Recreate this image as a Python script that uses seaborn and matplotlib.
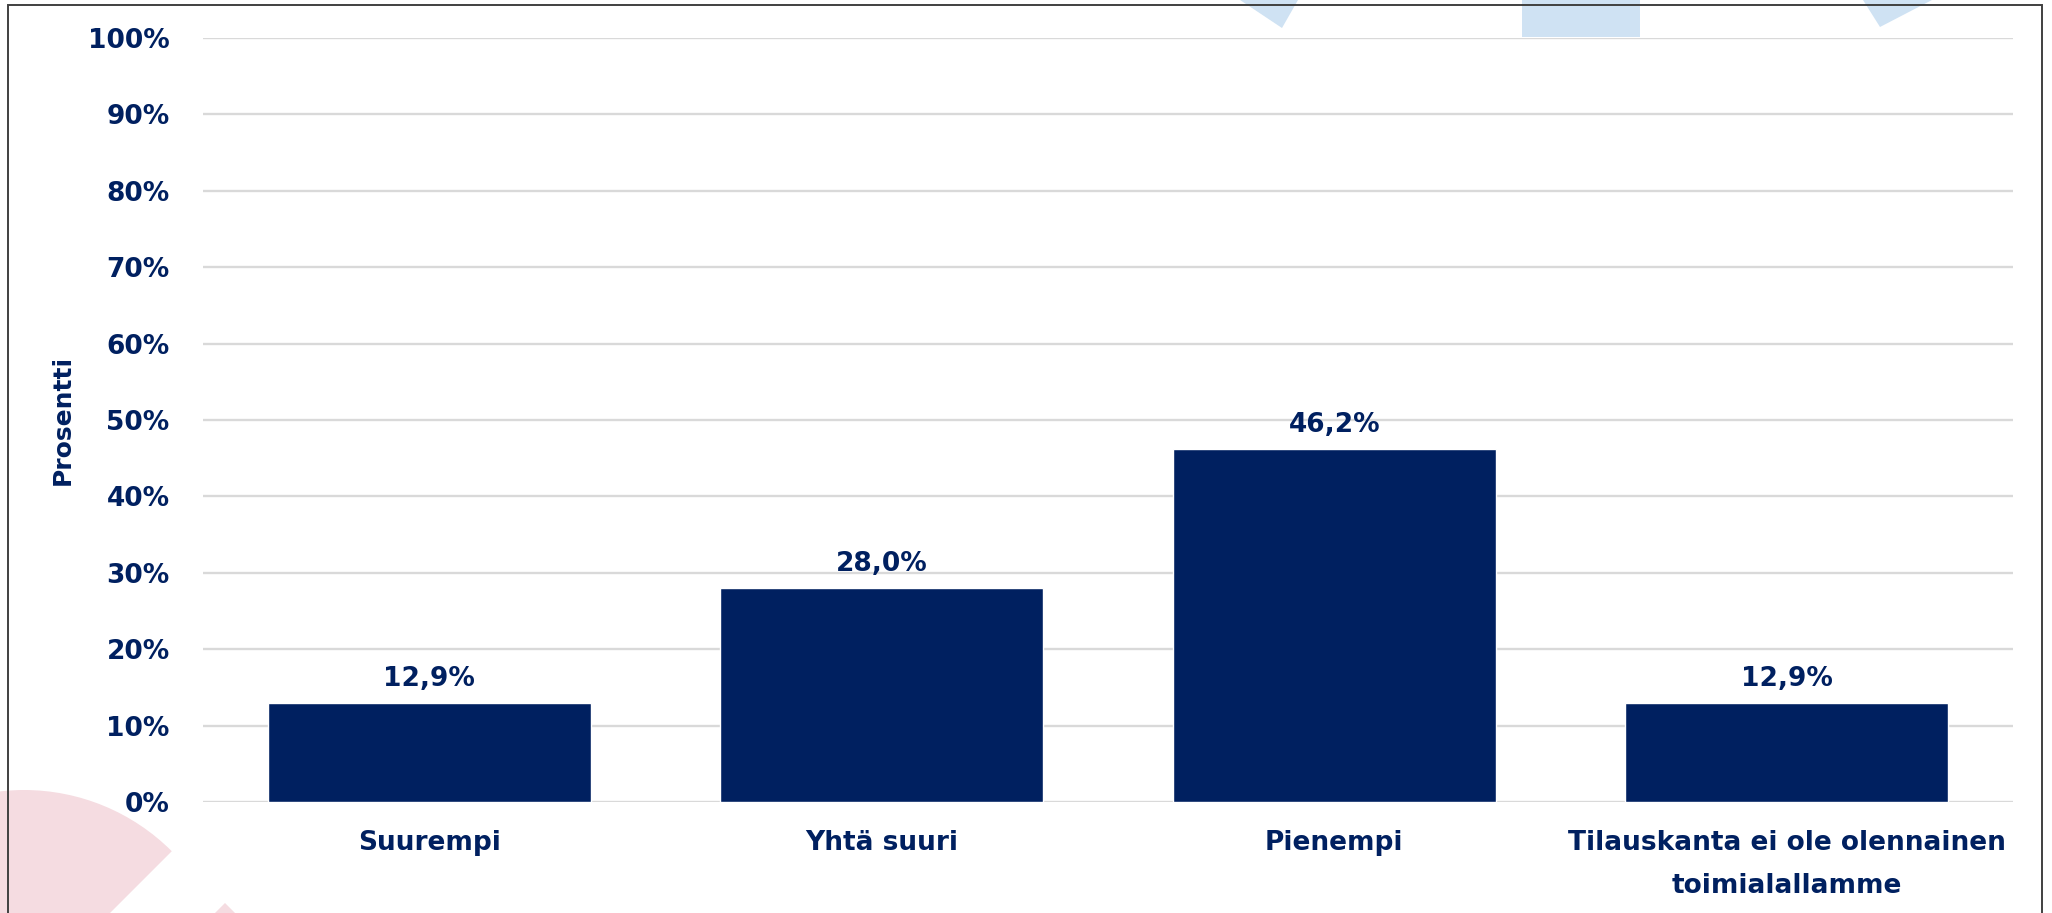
import matplotlib
matplotlib.use("Agg")
import matplotlib.pyplot as plt
import seaborn as sns
import pandas as pd
from matplotlib.patches import Polygon, Rectangle, Wedge
from matplotlib.transforms import IdentityTransform
from matplotlib.ticker import PercentFormatter

# ---- data ----
categories = ["Suurempi", "Yhtä suuri", "Pienempi",
              "Tilauskanta ei ole olennainen\ntoimialallamme"]
values = [0.129, 0.280, 0.462, 0.129]
y_ticks = [0, 0.1, 0.2, 0.3, 0.4, 0.5, 0.6, 0.7, 0.8, 0.9, 1.0]
y_label = "Prosentti"

NAVY = "#002060"
GRID = "#D9D9D9"

sns.set_theme(style="white")
plt.rcParams["font.family"] = ["DejaVu Sans"]

W, H, DPI = 2052, 913, 100
fig = plt.figure(figsize=(W / DPI, H / DPI), dpi=DPI)
fig.patch.set_facecolor("white")

def px(x, y):
    return (x, H - y)

# ---- background decorations (pixel space) ----
blue = "#CFE2F3"
pink = "#F5DCE1"
fig.patches.append(Polygon([px(1240, 0), px(1298, 0), px(1282, 28)], closed=True,
                           transform=IdentityTransform(), facecolor=blue, edgecolor="none", zorder=0))
fig.patches.append(Polygon([px(1863, 0), px(1932, 0), px(1880, 27)], closed=True,
                           transform=IdentityTransform(), facecolor=blue, edgecolor="none", zorder=0))
fig.patches.append(Rectangle(px(1522, 37), 118, 37, transform=IdentityTransform(),
                             facecolor=blue, edgecolor="none", zorder=0))
cx, cy = px(24, 999)
fig.patches.append(Wedge((cx, cy), 209, 45, 135, transform=IdentityTransform(),
                         facecolor=pink, edgecolor="none", zorder=0))
fig.patches.append(Polygon([px(225, 903), px(205, 923), px(245, 923)], closed=True,
                           transform=IdentityTransform(), facecolor=pink, edgecolor="none", zorder=0))
# frame
fig.patches.append(Polygon([px(8, 930), px(8, 5), px(2042, 5), px(2042, 930)], closed=False,
                           transform=IdentityTransform(), facecolor="none",
                           edgecolor="#404040", linewidth=1.4, zorder=1))

# ---- axes ----
left, right = 203 / W, 2013 / W
top, bottom = 1 - 38 / H, 1 - 802 / H
ax = fig.add_axes([left, bottom, right - left, top - bottom])
ax.patch.set_alpha(0)

df = pd.DataFrame({"cat": categories, "val": values})
sns.barplot(data=df, x="cat", y="val", color=NAVY, saturation=1, width=0.714, ax=ax, zorder=3)

ax.set_ylim(0, 1.0)
ax.set_yticks(y_ticks)
ax.yaxis.set_major_formatter(PercentFormatter(1.0, decimals=0))
ax.grid(axis="y", color=GRID, linewidth=1.7, zorder=0)
ax.grid(axis="x", visible=False)
ax.set_axisbelow(True)
for s in ax.spines.values():
    s.set_visible(False)

ax.tick_params(axis="y", length=0, pad=24, labelsize=19, labelcolor=NAVY)
ax.tick_params(axis="x", length=0, pad=20, labelsize=19, labelcolor=NAVY)
for lab in ax.get_yticklabels() + ax.get_xticklabels():
    lab.set_fontweight("bold")
for lab in ax.get_xticklabels():
    lab.set_linespacing(1.85)

ax.set_xlabel("")
ax.set_ylabel(y_label, fontsize=18, fontweight="bold", color=NAVY)
ax.yaxis.set_label_coords(-0.0707, 0.5)

labels = [f"{v * 100:.1f}%".replace(".", ",") for v in values]
ax.bar_label(ax.containers[0], labels=labels, padding=8, fontsize=19,
             fontweight="bold", color=NAVY)

fig.savefig("out.png", dpi=DPI, facecolor="white")
